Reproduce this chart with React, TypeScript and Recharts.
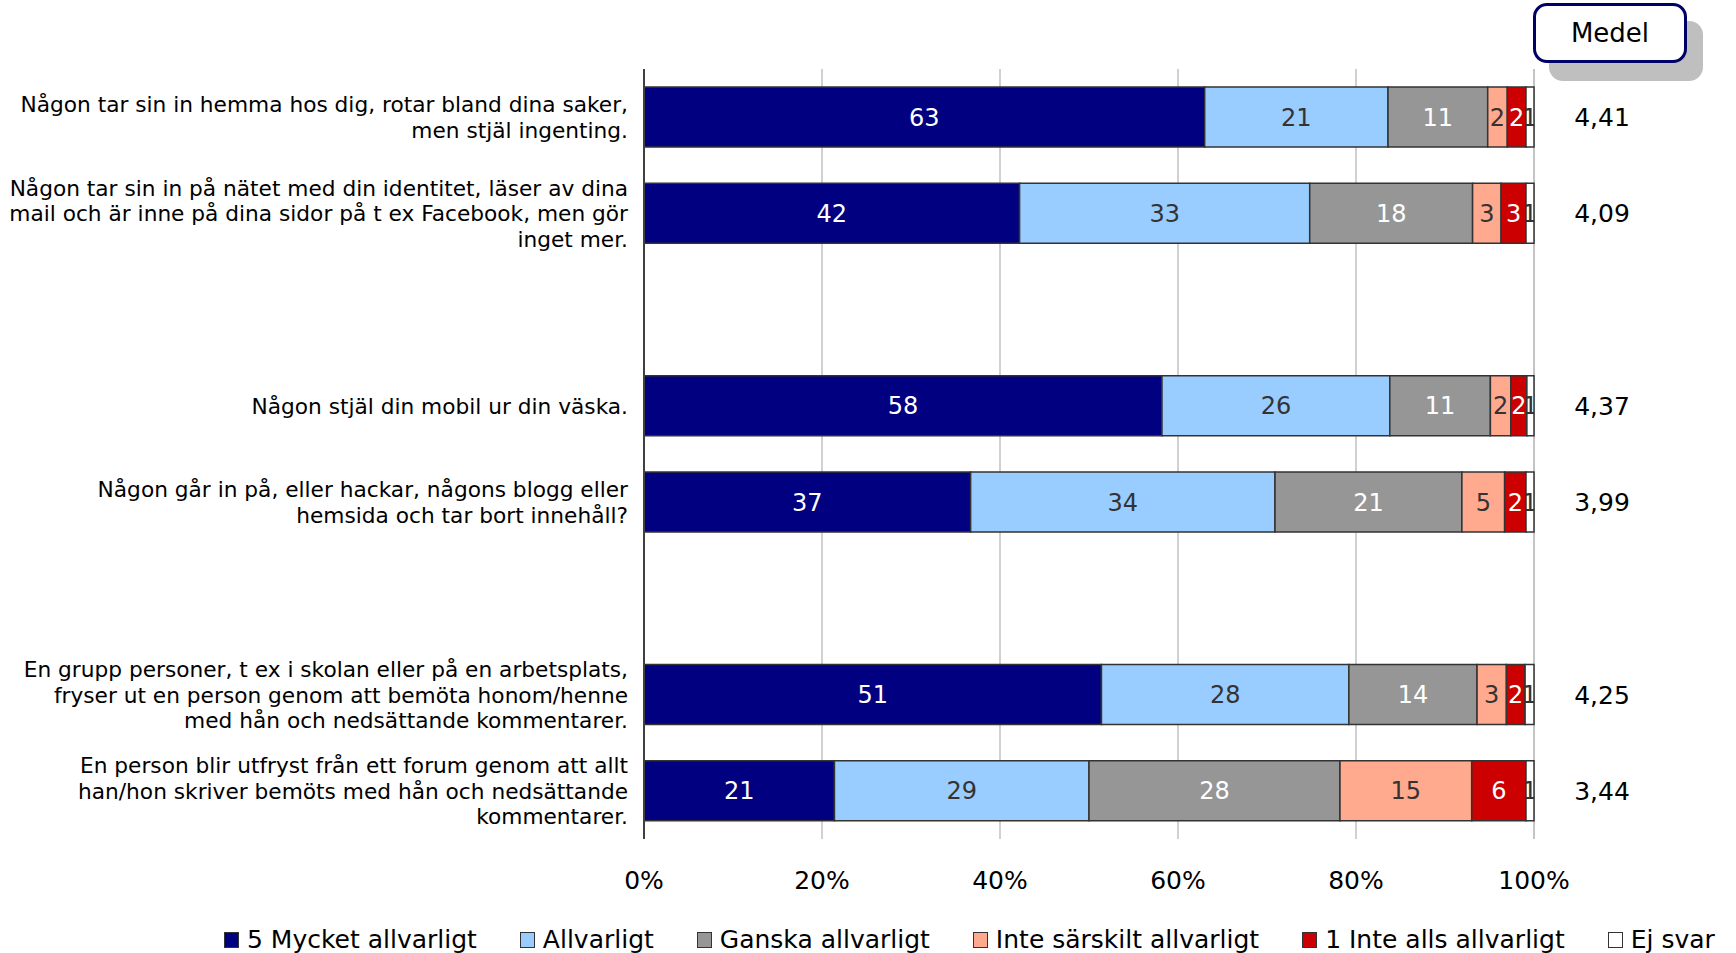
import React from "react";
import { BarChart, Bar, XAxis, YAxis, CartesianGrid, LabelList } from "recharts";

const FONT = "'DejaVu Sans', Verdana, sans-serif";

// row labels (empty strings are the spacer rows of the original)
const categories = [
  "Någon tar sin in hemma hos dig, rotar bland dina saker,\nmen stjäl ingenting.",
  "Någon tar sin in på nätet med din identitet, läser av dina\nmail och är inne på dina sidor på t ex Facebook, men gör\ninget mer.",
  "",
  "Någon stjäl din mobil ur din väska.",
  "Någon går in på, eller hackar, någons blogg eller\nhemsida och tar bort innehåll?",
  "",
  "En grupp personer, t ex i skolan eller på en arbetsplats,\nfryser ut en person genom att bemöta honom/henne\nmed hån och nedsättande kommentarer.",
  "En person blir utfryst från ett forum genom att allt\nhan/hon skriver bemöts med hån och nedsättande\nkommentarer.",
];

// percent per answer
const mycket = [63.0, 42.2, null, 58.2, 36.7, null, 51.4, 21.4];
const allvarligt = [20.6, 32.6, null, 25.6, 34.2, null, 27.8, 28.6];
const ganska = [11.2, 18.3, null, 11.3, 21.0, null, 14.4, 28.2];
const inteSarskilt = [2.2, 3.2, null, 2.3, 4.8, null, 3.3, 14.8];
const inteAlls = [2.1, 2.8, null, 1.8, 2.4, null, 2.1, 6.1];
const ejSvar = [0.9, 0.9, null, 0.8, 0.9, null, 1.0, 0.9];

const medel = ["4,41", "4,09", "", "4,37", "3,99", "", "4,25", "3,44"];

const seriesKeys = ["mycket", "allvarligt", "ganska", "inteSarskilt", "inteAlls", "ejSvar"];
const seriesNames = [
  "5 Mycket allvarligt",
  "Allvarligt",
  "Ganska allvarligt",
  "Inte särskilt allvarligt",
  "1 Inte alls allvarligt",
  "Ej svar",
];

const xTicks = [0, 20, 40, 60, 80, 100];

const fills = ["#000080", "#99CCFF", "#969696", "#FFA98F", "#CC0000", "#FFFFFF"];
const labelColors = ["#FFFFFF", "#333333", "#FFFFFF", "#333333", "#FFFFFF", "#333333"];

const data = categories.map((label, i) => ({
  label,
  mycket: mycket[i],
  allvarligt: allvarligt[i],
  ganska: ganska[i],
  inteSarskilt: inteSarskilt[i],
  inteAlls: inteAlls[i],
  ejSvar: ejSvar[i],
  medel: medel[i],
}));

const CategoryTick = (props: any) => {
  const { x, y, payload } = props;
  const text = categories[payload.index] ?? "";
  if (!text) return null;
  const lines = text.split("\n");
  const lh = 25.5;
  const start = -((lines.length - 1) * lh) / 2;
  return (
    <text textAnchor="end" fontSize={21.7} fill="#000" fontFamily={FONT}>
      {lines.map((l, i) => (
        <tspan key={i} x={x} y={y + start + i * lh + 8}>
          {l}
        </tspan>
      ))}
    </text>
  );
};

// segment value; clip=true keeps the text inside its (thin) segment
const makeValueLabel = (color: string, clip: boolean) => (props: any) => {
  const { x, y, width, height, value, index } = props;
  if (value == null) return null;
  const id = `clip-ej-${index}`;
  return (
    <g>
      {clip && (
        <defs>
          <clipPath id={id}>
            <rect x={x} y={y} width={width} height={height} />
          </clipPath>
        </defs>
      )}
      <text
        x={x + width / 2}
        y={y + height / 2 + 8.5}
        textAnchor="middle"
        fill={color}
        fontSize={24}
        fontFamily={FONT}
        clipPath={clip ? `url(#${id})` : undefined}
      >
        {Math.round(value)}
      </text>
    </g>
  );
};

const MedelLabel = (props: any) => {
  const { x, y, width, height, value } = props;
  if (!value) return null;
  return (
    <text
      x={x + width + 68}
      y={y + height / 2 + 9}
      textAnchor="middle"
      fill="#000"
      fontSize={25}
      fontFamily={FONT}
    >
      {value}
    </text>
  );
};

const App = () => {
  return (
    <div
      style={{
        position: "absolute",
        left: 0,
        top: 0,
        width: 1736,
        height: 953,
        background: "#fff",
        fontFamily: FONT,
      }}
    >
      <BarChart
        width={1736}
        height={953}
        data={data}
        layout="vertical"
        margin={{ top: 69, right: 202, bottom: 0, left: 0 }}
      >
        <CartesianGrid horizontal={false} stroke="#C0C0C0" strokeWidth={1.5} />
        <XAxis
          type="number"
          domain={[0, 100]}
          ticks={xTicks}
          tickFormatter={(v) => `${v}%`}
          axisLine={false}
          tickLine={false}
          tickSize={0}
          tickMargin={32}
          height={114}
          tick={{ fontSize: 25, fill: "#000", fontFamily: FONT }}
          interval={0}
        />
        <YAxis
          type="category"
          dataKey="label"
          width={644}
          tickLine={false}
          tickSize={0}
          tickMargin={16}
          axisLine={{ stroke: "#404040", strokeWidth: 2 }}
          tick={<CategoryTick />}
          interval={0}
        />
        {seriesKeys.map((key, i) => (
          <Bar
            key={key}
            dataKey={key}
            name={seriesNames[i]}
            stackId="a"
            fill={fills[i]}
            stroke="#333333"
            strokeWidth={1.5}
            barSize={60}
            isAnimationActive={false}
          >
            <LabelList dataKey={key} content={makeValueLabel(labelColors[i], key === "ejSvar")} />
            {key === "ejSvar" && <LabelList dataKey="medel" content={MedelLabel} />}
          </Bar>
        ))}
      </BarChart>

      {/* Medel header box */}
      <div
        style={{
          position: "absolute",
          left: 1533,
          top: 3,
          width: 154,
          height: 60,
          boxSizing: "border-box",
          border: "3.5px solid #000066",
          borderRadius: 14,
          background: "#fff",
          boxShadow: "16px 18px 0 #BFBFBF",
          display: "flex",
          alignItems: "center",
          justifyContent: "center",
          fontSize: 26,
          color: "#000",
        }}
      >
        Medel
      </div>

      {/* legend */}
      <div
        style={{
          position: "absolute",
          left: 224,
          top: 922,
          height: 36,
          display: "flex",
          alignItems: "center",
          gap: 43,
          fontSize: 25,
          lineHeight: "36px",
          color: "#000",
          whiteSpace: "nowrap",
        }}
      >
        {seriesNames.map((name, i) => (
          <div key={name} style={{ display: "flex", alignItems: "center" }}>
            <span
              style={{
                display: "inline-block",
                width: 15,
                height: 16,
                boxSizing: "border-box",
                border: "1.5px solid #333",
                background: fills[i],
                marginRight: 8,
              }}
            />
            <span>{name}</span>
          </div>
        ))}
      </div>
    </div>
  );
};

export default App;
